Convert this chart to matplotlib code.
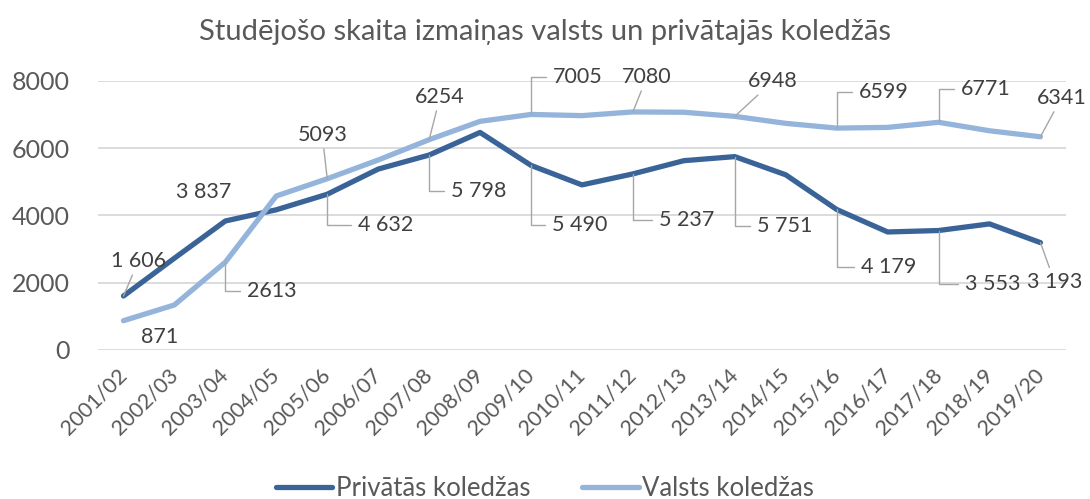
import matplotlib.pyplot as plt
import numpy as np

plt.rcParams['font.family'] = ['Lato', 'DejaVu Sans']

years = ['2001/02', '2002/03', '2003/04', '2004/05', '2005/06', '2006/07', '2007/08',
         '2008/09', '2009/10', '2010/11', '2011/12', '2012/13', '2013/14', '2014/15',
         '2015/16', '2016/17', '2017/18', '2018/19', '2019/20']
privatas = [1606, 2730, 3837, 4170, 4632, 5380, 5798, 6470, 5490, 4910, 5237, 5630,
            5751, 5210, 4179, 3510, 3553, 3750, 3193]
valsts = [871, 1340, 2613, 4580, 5093, 5650, 6254, 6800, 7005, 6970, 7080, 7070,
          6948, 6740, 6599, 6620, 6771, 6520, 6341]

# which points carry a value label
lab_priv = [0, 2, 4, 6, 8, 10, 12, 14, 16, 18]
lab_vals = [0, 2, 4, 6, 8, 10, 12, 14, 16, 18]

# label placement (pixel offsets from the point, leader type)
pos_priv = [(15, -35, 'line'), (-22, -29, None), (58, 31, 'elbow'), (50, 36, 'elbow'),
            (49, 60, 'elbow'), (54, 46, 'elbow'), (50, 69, 'elbow'), (52, 58, 'elbow'),
            (54, 53, 'elbow'), (14, 39, 'line')]
pos_vals = [(36, 16, None), (46, 29, 'elbow'), (-5, -44, 'line'), (11, -43, 'line'),
            (47, -37, 'elbow'), (14, -35, 'line'), (38, -35, 'line'), (47, -36, 'elbow'),
            (47, -33, 'elbow'), (21, -39, 'line')]

dark = '#3A6497'
light = '#95B4DB'
txt = '#595959'
lbl = '#404040'

fig = plt.figure(figsize=(10.9, 4.99), dpi=100)
ax = fig.add_axes([0.0899, 0.2986, 0.888, 0.5391])

x = np.arange(len(years))
ax.plot(x, privatas, color=dark, lw=3.8, solid_capstyle='round', label='Privātās koledžas', zorder=3)
ax.plot(x, valsts, color=light, lw=3.8, solid_capstyle='round', label='Valsts koledžas', zorder=3)


def fmt_space(v):
    return '{:,}'.format(v).replace(',', ' ')


def put_labels(vals, idx, pos, spaced):
    for k, i in enumerate(idx):
        dx, dy, kind = pos[k]
        s = fmt_space(vals[i]) if spaced else str(vals[i])
        props = None
        if kind == 'line':
            props = dict(arrowstyle='-', color='#A6A6A6', lw=1, shrinkA=1, shrinkB=0)
        elif kind == 'elbow':
            props = dict(arrowstyle='-', color='#A6A6A6', lw=1, shrinkA=3, shrinkB=0,
                         connectionstyle='angle,angleA=0,angleB=90,rad=0')
        ax.annotate(s, (i, vals[i]), xytext=(dx * 0.72, -dy * 0.72), textcoords='offset points',
                    ha='center', va='center', fontsize=15.5, color=lbl,
                    arrowprops=props, zorder=4)


put_labels(privatas, lab_priv, pos_priv, True)
put_labels(valsts, lab_vals, pos_vals, False)

ax.set_xlim(-0.5, len(years) - 0.5)
ax.set_ylim(0, 8000)
ax.set_yticks([0, 2000, 4000, 6000, 8000])
ax.set_xticks(x)
ax.set_xticklabels(years, rotation=45, ha='right', va='center', rotation_mode='anchor')
ax.tick_params(axis='y', length=0, pad=20, labelsize=18, labelcolor=txt)
ax.tick_params(axis='x', length=0, pad=16, labelsize=15.5, labelcolor=txt)
ax.grid(axis='y', color='#D9D9D9', lw=1.3)
ax.set_axisbelow(True)
for sp in ax.spines.values():
    sp.set_visible(False)

fig.text(0.5, 0.936, 'Studējošo skaita izmaiņas valsts un privātajās koledžās',
         ha='center', va='center', fontsize=21, color=txt)

fig.legend(loc='center', bbox_to_anchor=(0.5, 0.022), ncol=2, frameon=False,
           fontsize=18.5, labelcolor=txt, handlelength=2.2, handletextpad=0.15,
           columnspacing=2.0)

plt.savefig('out.png')
